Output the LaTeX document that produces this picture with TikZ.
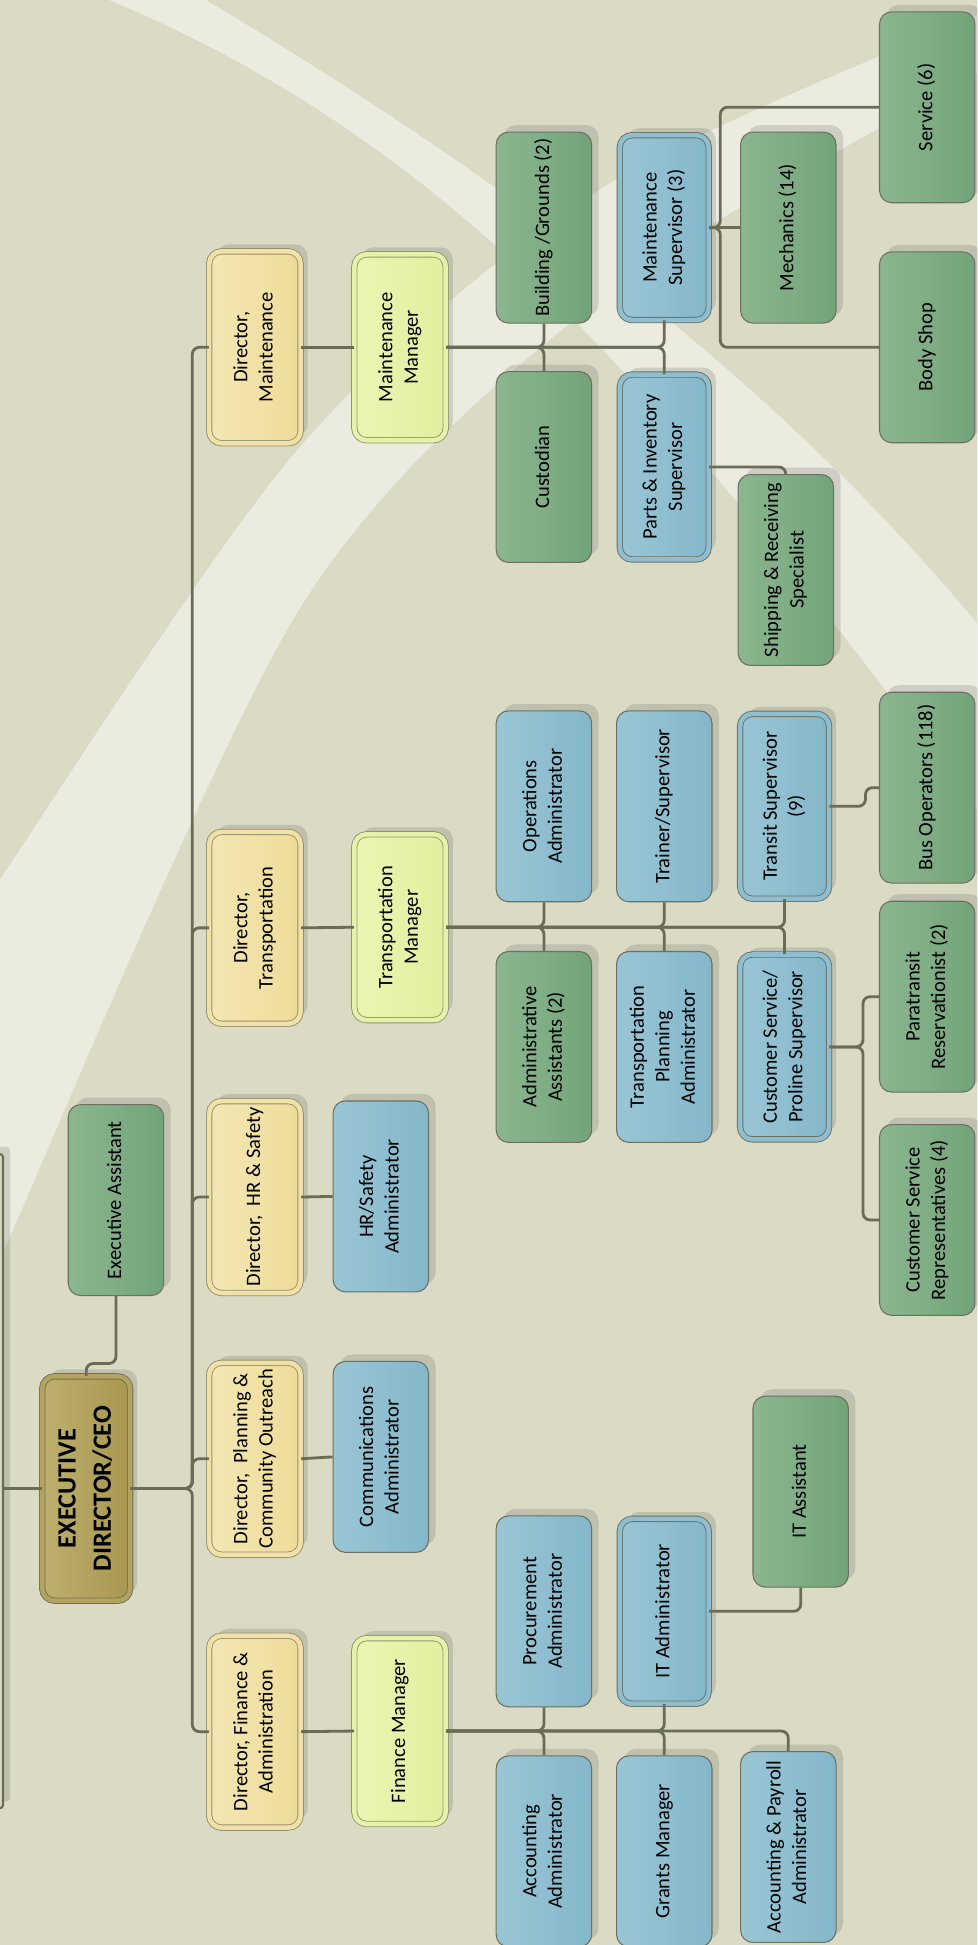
\documentclass[tikz,border=0pt]{standalone}
\usepackage{fontspec}
\setmainfont{Carlito}
\usetikzlibrary{shadows}
\definecolor{bgc}{HTML}{DADAC5}
\definecolor{bandc}{HTML}{EBEBE0}
\definecolor{linkc}{HTML}{6A6C58}
\definecolor{edgec}{HTML}{6B7060}
\definecolor{greenl}{HTML}{8BB690}
\definecolor{greenr}{HTML}{73A479}
\definecolor{bluel}{HTML}{99C6D5}
\definecolor{bluer}{HTML}{84B7CA}
\definecolor{yell}{HTML}{F4E7B4}
\definecolor{yelr}{HTML}{EEDC98}
\definecolor{limel}{HTML}{EBF5B3}
\definecolor{limer}{HTML}{E2EF9D}
\definecolor{ceol}{HTML}{BDAF6E}
\definecolor{ceor}{HTML}{A7974F}
\newcommand{\vtext}[1]{\rotatebox{90}{\begin{tabular}{@{}c@{}}#1\end{tabular}}}

\begin{document}
\begin{tikzpicture}[x=0.024822cm, y=-0.024822cm,
    every node/.style={font=\fontsize{11.7}{14.5}\selectfont, inner sep=1pt},
    card/.style={draw=edgec, line width=0.6pt, rounded corners=7pt,
        drop shadow={shadow xshift=4pt, shadow yshift=4pt, fill=black!70, opacity=.18}},
    gbox/.style={card, left color=greenl, right color=greenr,
        minimum width=1.91cm, minimum height=3.82cm},
    bbox/.style={card, left color=bluel, right color=bluer,
        minimum width=1.91cm, minimum height=3.82cm},
    bdbox/.style={card, left color=bluel, right color=bluer, line width=0.5pt,
        double=bluel!50!bluer, double distance=2.6pt,
        minimum width=1.78cm, minimum height=3.70cm},
    dirbox/.style={card, left color=yell, right color=yelr, line width=0.5pt,
        draw=edgec!70!yelr, double=yell!50!yelr, double distance=2.6pt,
        minimum width=1.83cm, minimum height=3.84cm},
    mgrbox/.style={card, left color=limel, right color=limer, line width=0.5pt,
        draw=edgec!70!limer, double=limel!50!limer, double distance=2.6pt,
        minimum width=1.83cm, minimum height=3.72cm},
    ceobox/.style={card, left color=ceol, right color=ceor, line width=0.5pt,
        double=ceol!50!ceor, double distance=2.6pt,
        minimum width=1.76cm, minimum height=4.49cm,
        font=\fontsize{15}{20}\selectfont\bfseries},
    link/.style={draw=linkc, line width=1.6pt, rounded corners=4pt}
]
    \useasboundingbox (0,0) rectangle (788,1568);
    \clip (0,0) rectangle (788,1568);

    % background and the two light swooshes
    \fill[bgc] (-5,-5) rectangle (793,1573);
    \fill[bandc] (140,-16) -- (166,0) .. controls (400,140) and (620,300) .. (788,503) -- (840,570)
        -- (840,720) -- (788,653) .. controls (568,367) and (400,130) .. (88,0) -- (60,-16) -- cycle;
    \fill[bandc] plot[smooth] coordinates {(-20,745) (0,709) (242,360) (483,153) (788,12) (840,-5)}
        -- plot[smooth] coordinates {(840,45) (788,60) (483,242) (242,490) (0,1015) (-12,1050)} -- cycle;

    % board box, cut at the left edge
    \node[card, rounded corners=2pt, fill=bgc, draw=linkc, line width=1.2pt,
        minimum width=3cm, minimum height=13.1cm] (board) at (-58,1194) {};

    % top level
    \node[ceobox] (ceo) at (69.5,1200) {\vtext{EXECUTIVE\\DIRECTOR/CEO}};
    \node[gbox] (ea) at (93.5,967.5) {\vtext{Executive Assistant}};

    % directors
    \node[dirbox] (dmnt) at (205.5,280) {\vtext{Director,\\Maintenance}};
    \node[dirbox] (dtrn) at (205.5,748) {\vtext{Director,\\Transportation}};
    \node[dirbox] (dhr) at (205.5,965) {\vtext{Director,\ \ HR \& Safety}};
    \node[dirbox] (dpco) at (205.5,1176) {\vtext{Director,\ \ Planning \&\\Community Outreach}};
    \node[dirbox] (dfin) at (205.5,1396) {\vtext{Director, Finance \&\\Administration}};

    % managers and administrators
    \node[mgrbox] (mmgr) at (322.5,280) {\vtext{Maintenance\\Manager}};
    \node[mgrbox] (tmgr) at (322.5,747.5) {\vtext{Transportation\\Manager}};
    \node[mgrbox] (fmgr) at (322.5,1395.5) {\vtext{Finance Manager}};
    \node[bbox] (hra) at (307,964.5) {\vtext{HR/Safety\\Administrator}};
    \node[bbox] (coma) at (307,1174.5) {\vtext{Communications\\Administrator}};

    % maintenance
    \node[gbox] (bg) at (438.5,183.5) {\vtext{Building /Grounds (2)}};
    \node[gbox] (cust) at (438.5,376.5) {\vtext{Custodian}};
    \node[bdbox] (msup) at (535.5,183.5) {\vtext{Maintenance\\Supervisor (3)}};
    \node[bdbox] (parts) at (535.5,376.5) {\vtext{Parts \& Inventory\\Supervisor}};
    \node[gbox] (mech) at (635.5,183.5) {\vtext{Mechanics (14)}};
    \node[gbox] (ship) at (633.5,459.5) {\vtext{Shipping \& Receiving\\Specialist}};
    \node[gbox] (svc) at (747.5,86.5) {\vtext{Service (6)}};
    \node[gbox] (body) at (747.5,280) {\vtext{Body Shop}};

    % transportation
    \node[bbox] (ops) at (438.5,650) {\vtext{Operations\\Administrator}};
    \node[gbox] (adm) at (438.5,844) {\vtext{Administrative\\Assistants (2)}};
    \node[bbox] (trn) at (535.5,650) {\vtext{Trainer/Supervisor}};
    \node[bbox] (tpa) at (535.5,844) {\vtext{Transportation\\Planning\\Administrator}};
    \node[bdbox] (ts) at (632.5,650) {\vtext{Transit Supervisor\\(9)}};
    \node[bdbox] (csp) at (632.5,844) {\vtext{Customer Service/\\Proline Supervisor}};
    \node[gbox] (bo) at (747.5,635) {\vtext{Bus Operators (118)}};
    \node[gbox] (para) at (747.5,803.5) {\vtext{Paratransit\\Reservationist (2)}};
    \node[gbox] (csr) at (747.5,983.5) {\vtext{Customer Service\\Representatives (4)}};

    % finance
    \node[bbox] (proc) at (438.5,1299) {\vtext{Procurement\\Administrator}};
    \node[bbox] (acca) at (438.5,1492.5) {\vtext{Accounting\\Administrator}};
    \node[bdbox] (ita) at (535.5,1299) {\vtext{IT Administrator}};
    \node[bbox] (grants) at (535.5,1492.5) {\vtext{Grants Manager}};
    \node[gbox] (itas) at (645.5,1202.5) {\vtext{IT Assistant}};
    \node[bbox] (accp) at (635.5,1489) {\vtext{Accounting \& Payroll\\Administrator}};

    % connectors
    \coordinate (db) at (155,1198);
    \draw[link] (ceo.west -| board.east) -- (ceo.west);
    \draw[link] (ceo.north) -- ++(0,-10) -| (ea.south);
    \foreach \d in {dmnt,dtrn,dhr,dpco,dfin}
        \draw[link] (ceo.east) -| (db |- \d.west) -- (\d.west);

    \draw[link] (dmnt.east) -- (mmgr.west);
    \draw[link] (dtrn.east) -- (tmgr.west);
    \draw[link] (dhr.east) -- (hra.west);
    \draw[link] (dpco.east) -- (coma.west);
    \draw[link] (dfin.east) -- (fmgr.west);

    \draw[link] (mmgr.east) -| (bg.south);
    \draw[link] (mmgr.east) -| (cust.north);
    \draw[link] (mmgr.east) -| (msup.south);
    \draw[link] (mmgr.east) -| (parts.north);
    \draw[link] (msup.east) -- (mech.west);
    \draw[link] (msup.east) -- ++(9,0) |- (svc.west);
    \draw[link] (msup.east) -- ++(9,0) |- (body.west);
    \draw[link] (parts.east) -| (ship.north);

    \draw[link] (tmgr.east) -| (ops.south);
    \draw[link] (tmgr.east) -| (adm.north);
    \draw[link] (tmgr.east) -| (trn.south);
    \draw[link] (tmgr.east) -| (tpa.north);
    \draw[link] (tmgr.east) -| (ts.south);
    \draw[link] (tmgr.east) -| (csp.north);
    \draw[link] (ts.east) -- ++(29,0) |- (bo.west);
    \draw[link] (csp.east) -- ++(27,0) |- (para.west);
    \draw[link] (csp.east) -- ++(27,0) |- (csr.west);

    \draw[link] (fmgr.east) -| (proc.south);
    \draw[link] (fmgr.east) -| (acca.north);
    \draw[link] (fmgr.east) -| (ita.south);
    \draw[link] (fmgr.east) -| (grants.north);
    \draw[link] (fmgr.east) -| (accp.north);
    \draw[link] (ita.east) -| (itas.south);
\end{tikzpicture}
\end{document}
